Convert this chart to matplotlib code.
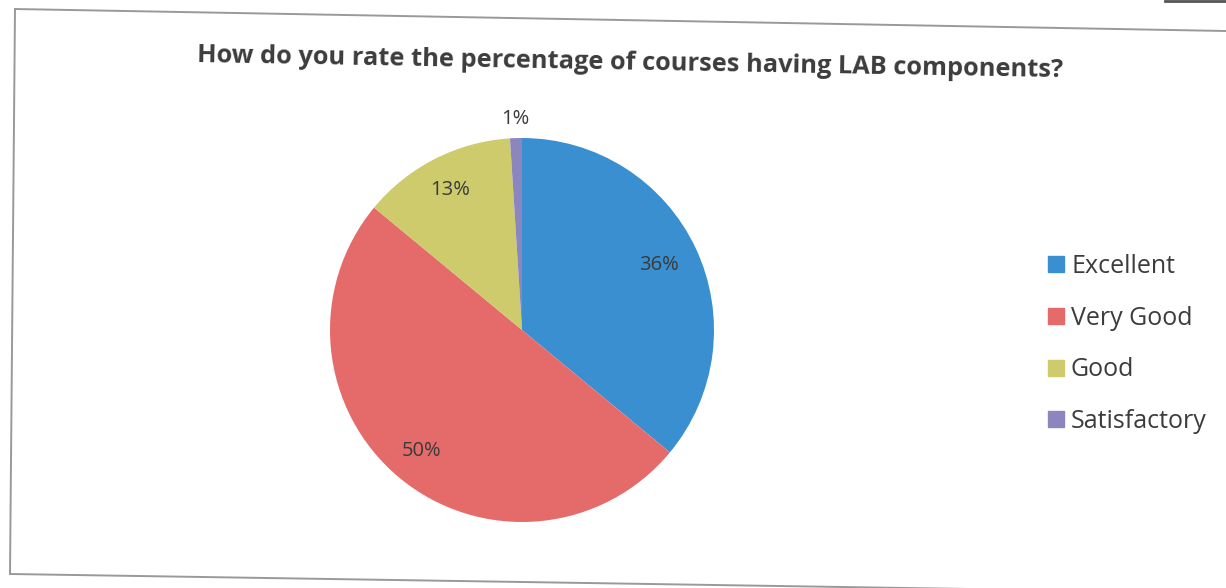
import matplotlib
matplotlib.use("Agg")
import matplotlib.pyplot as plt
from matplotlib.lines import Line2D
import numpy as np

categories = ["Excellent", "Very Good", "Good", "Satisfactory"]
values = [36, 50, 13, 1]
labels_pct = ["36%", "50%", "13%", "1%"]
colors = ["#3a8fd0", "#e56b6b", "#cdcb6c", "#8b86bd"]
label_radius = [0.79, 0.82, 0.82, 1.10]

W, H = 1226, 588
fig = plt.figure(figsize=(W / 100, H / 100), dpi=100)
fig.patch.set_facecolor("white")

cx, cy, r = 522, 330, 192
ax = fig.add_axes([(cx - r) / W, (H - cy - r) / H, 2 * r / W, 2 * r / H])
wedges, _ = ax.pie(values, colors=colors, startangle=90, counterclock=False,
                   wedgeprops=dict(linewidth=0))
ax.set_xlim(-1, 1)
ax.set_ylim(-1, 1)
ax.set_aspect("equal")
ax.axis("off")

for w, lab, rr in zip(wedges, labels_pct, label_radius):
    ang = np.deg2rad((w.theta1 + w.theta2) / 2)
    ax.text(rr * np.cos(ang), rr * np.sin(ang), lab, ha="center", va="center",
            fontsize=14.5, color="#3a3a3a", family="Open Sans")

fig.text(630 / W, 1 - 63 / H,
         "How do you rate the percentage of courses having LAB components?",
         ha="center", va="center", fontsize=18.3, fontweight="bold",
         color="#3c3c3c", family="Open Sans", rotation=-1.0)

# legend
handles = [Line2D([0], [0], marker="s", linestyle="", markersize=11,
                  markerfacecolor=c, markeredgecolor=c) for c in colors]
leg = fig.legend(handles, categories, loc="center left",
                 bbox_to_anchor=(1026 / W, 1 - 344 / H), frameon=False,
                 labelcolor="#3c3c3c", handlelength=0.6,
                 handletextpad=0.3, labelspacing=1.07,
                 prop=dict(family="Open Sans", size=18))

# scanned frame border
fig.add_artist(Line2D([15 / W, 1226 / W], [1 - 9 / H, 1 - 31 / H], color="#999999", lw=1.4))
fig.add_artist(Line2D([15 / W, 10 / W], [1 - 9 / H, 1 - 574 / H], color="#999999", lw=1.4))
fig.add_artist(Line2D([10 / W, 1226 / W], [1 - 574 / H, 1 - 593 / H], color="#999999", lw=1.4))
fig.add_artist(Line2D([1165 / W, 1226 / W], [1 - 1 / H, 1 - 1 / H], color="#555555", lw=2))

fig.savefig("out.png", dpi=100, facecolor="white")
